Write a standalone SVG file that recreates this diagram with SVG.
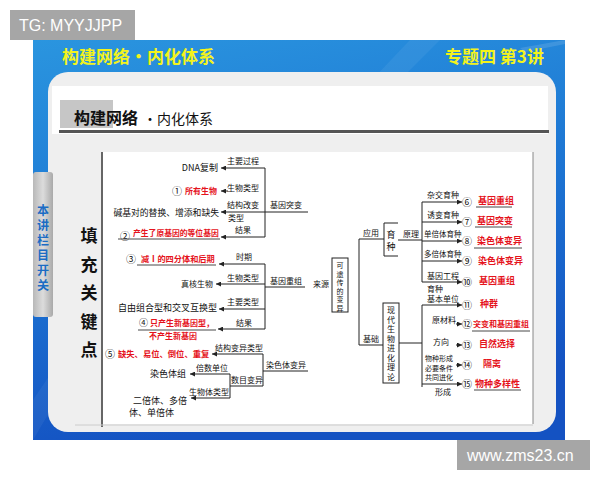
<svg xmlns="http://www.w3.org/2000/svg" width="600" height="480" viewBox="0 0 600 480">
<defs>
<linearGradient id="bg" x1="0" y1="0" x2="0.25" y2="1">
<stop offset="0" stop-color="#2a95df"/>
<stop offset="0.55" stop-color="#1c73d2"/>
<stop offset="1" stop-color="#1452c2"/>
</linearGradient>
<linearGradient id="tab" x1="0" y1="0" x2="1" y2="0">
<stop offset="0" stop-color="#b8b8b8"/>
<stop offset="0.5" stop-color="#dcdcdc"/>
<stop offset="1" stop-color="#a9a9a9"/>
</linearGradient>
<marker id="ah" viewBox="0 0 6 6" refX="6" refY="3" markerWidth="5" markerHeight="5" markerUnits="userSpaceOnUse" orient="auto">
<path d="M0,0 L6,3 L0,6 z" fill="#222"/>
</marker>
<style>
.t{font-family:"Noto Sans CJK SC","Noto Sans",sans-serif;fill:#111}
.s7{font-size:7.5px}.s8{font-size:8px}.s9{font-size:9px}.s10{font-size:10px}
.red{fill:#e5131c;font-weight:bold}
.c{text-anchor:middle}.e{text-anchor:end}
.ln{stroke:#222;stroke-width:1;fill:none}
.ar{stroke:#222;stroke-width:1;fill:none;marker-end:url(#ah)}
.ul{stroke:#333;stroke-width:0.9}
.hd{font-family:"Noto Sans CJK SC",sans-serif;font-weight:bold;font-size:17px;fill:#f3f31c}
.wm{font-family:"Liberation Sans",Arial,sans-serif;font-size:16px;fill:#fff}
</style>
</defs>
<rect width="600" height="480" fill="#fff"/>
<!-- slide background -->
<rect x="33" y="40" width="532" height="400" fill="url(#bg)"/>
<polygon points="410,40 440,40 400,80 372,80" fill="#fff" opacity="0.06"/>
<polygon points="520,48 565,40 565,44 525,52" fill="#fff" opacity="0.12"/>
<polygon points="33,440 33,400 60,360 80,360" fill="#fff" opacity="0.05"/>
<text class="hd" x="62" y="63">构建网络・内化体系</text>
<text class="hd" x="445" y="63">专题四 第3讲</text>
<!-- white panel -->
<rect x="48" y="72" width="508" height="360" rx="20" fill="#efefef"/>
<rect x="52" y="86" width="496" height="48" fill="#fff"/>
<rect x="60" y="100" width="53" height="28" fill="#c6c6c6"/>
<text class="t" x="74" y="124" font-size="16" font-weight="bold">构建网络</text>
<text class="t" x="143" y="124" font-size="14">・内化体系</text>
<rect x="59" y="130" width="490" height="3" fill="#555"/>
<rect x="103" y="152" width="430" height="272" fill="#fff"/>
<line x1="102" y1="152" x2="102" y2="427" stroke="#666" stroke-width="2"/>
<line x1="533" y1="152" x2="533" y2="424" stroke="#888" stroke-width="1"/>
<line x1="75" y1="425" x2="533" y2="425" stroke="#ccc" stroke-width="1"/>
<!-- side tab -->
<g id="tab-switch">
<rect x="33" y="172" width="20" height="145" rx="3" fill="url(#tab)"/>
<text x="43" y="204" writing-mode="tb" font-family="Noto Sans CJK SC,sans-serif" font-size="12" letter-spacing="3" font-weight="bold" fill="#1b6cc4">本讲栏目开关</text>
</g>
<!-- watermarks -->
<rect x="10" y="10" width="125" height="30" fill="#a6a6a6"/>
<text class="wm" x="19" y="31">TG: MYYJJPP</text>
<rect x="457" y="440" width="133" height="30" fill="#a6a6a6"/>
<text class="wm" x="467" y="461">www.zms23.cn</text>
<!-- title -->
<g id="fill-title" class="t" font-size="17" font-weight="bold" text-anchor="middle">
<text x="89" y="242">填</text><text x="89" y="271">充</text><text x="89" y="299">关</text><text x="89" y="328">键</text><text x="89" y="356">点</text>
</g>
<!-- connectors -->
<g id="connectors">
<line class="ar" x1="265" y1="168" x2="221" y2="168"/>
<line class="ar" x1="228" y1="191" x2="221" y2="191"/>
<line class="ar" x1="265" y1="212" x2="221" y2="212"/>
<line class="ar" x1="265" y1="237" x2="221" y2="237"/>
<line class="ln" x1="265" y1="168" x2="265" y2="237"/>
<line class="ln" x1="265" y1="212" x2="308" y2="212"/>
<line class="ar" x1="265" y1="264" x2="219" y2="264"/>
<line class="ar" x1="265" y1="284" x2="216" y2="284"/>
<line class="ar" x1="265" y1="309" x2="219" y2="309"/>
<line class="ar" x1="265" y1="329" x2="218" y2="329"/>
<line class="ln" x1="265" y1="264" x2="265" y2="329"/>
<line class="ln" x1="265" y1="287" x2="305" y2="287"/>
<line class="ar" x1="263" y1="354" x2="212" y2="354"/>
<line class="ln" x1="263" y1="354" x2="263" y2="386"/>
<line class="ln" x1="263" y1="371" x2="308" y2="371"/>
<line class="ln" x1="230" y1="386" x2="263" y2="386"/>
<line class="ln" x1="230" y1="374" x2="230" y2="398"/>
<line class="ar" x1="230" y1="374" x2="190" y2="374"/>
<line class="ar" x1="230" y1="398" x2="191" y2="398"/>
<line class="ln" x1="359" y1="239" x2="359" y2="345"/>
<line class="ln" x1="359" y1="239" x2="384" y2="239"/>
<line class="ln" x1="359" y1="345" x2="383" y2="345"/>
<line class="ln" x1="398" y1="240" x2="422" y2="240"/>
<line class="ln" x1="422" y1="202" x2="422" y2="282"/>
<line class="ar" x1="422" y1="202" x2="462" y2="202"/>
<line class="ar" x1="422" y1="222" x2="462" y2="222"/>
<line class="ar" x1="422" y1="241" x2="462" y2="241"/>
<line class="ar" x1="422" y1="261" x2="462" y2="261"/>
<line class="ar" x1="422" y1="282" x2="462" y2="282"/>
<line class="ln" x1="399" y1="343" x2="422" y2="343"/>
<line class="ln" x1="422" y1="305" x2="422" y2="387"/>
<line class="ar" x1="422" y1="305" x2="462" y2="305"/>
<line class="ar" x1="456" y1="324" x2="462" y2="324"/>
<line class="ar" x1="456" y1="345" x2="462" y2="345"/>
<line class="ar" x1="456" y1="365" x2="462" y2="365"/>
<line class="ar" x1="422" y1="384" x2="462" y2="384"/>
</g>
<!-- left: gene mutation -->
<g id="gene-mutation" class="t">
<text class="s9 e" x="218" y="171">DNA复制</text>
<text class="s10" x="172" y="195">①</text><text class="s8 red" x="185" y="194">所有生物</text>
<text class="e" font-size="8.8" x="219" y="216">碱基对的替换、增添和缺失</text>
<text class="s10" x="120" y="240">②</text><text class="red" font-size="7.8" x="133" y="236">产生了原基因的等位基因</text>
<line class="ul" x1="118" y1="239" x2="220" y2="239"/>
<text class="s8 c" x="243" y="164">主要过程</text>
<text class="s8 c" x="243" y="191">生物类型</text>
<text class="s8 c" x="243" y="208">结构改变</text>
<text class="s8" x="228" y="221">类型</text>
<text class="s8 c" x="243" y="233">结果</text>
<text class="s8 c" x="286" y="208">基因突变</text>
</g>
<g id="gene-recombination" class="t">
<text class="s10" x="126" y="263">③</text><text class="red" font-size="8.2" x="141" y="262">减Ⅰ的四分体和后期</text>
<line class="ul" x1="137" y1="265" x2="216" y2="265"/>
<text class="s8 e" x="213" y="287">真核生物</text>
<text class="s9 e" x="217" y="311">自由组合型和交叉互换型</text>
<text class="s9" x="139" y="326">④</text><text class="s8 red" x="150" y="326">只产生新基因型，</text>
<line class="ul" x1="138" y1="330" x2="216" y2="330"/>
<text class="s8 red" x="149" y="339">不产生新基因</text>
<text class="s8 c" x="244" y="260">时期</text>
<text class="s8 c" x="243" y="281">生物类型</text>
<text class="s8 c" x="286" y="284">基因重组</text>
<text class="s8 c" x="321" y="287">来源</text>
<text class="s8 c" x="243" y="305">主要类型</text>
<text class="s8 c" x="244" y="326">结果</text>
</g>
<g id="chromosome-variation" class="t">
<text class="s10" x="105" y="358">⑤</text><text class="red" font-size="8.3" x="118" y="357">缺失、易位、倒位、重复</text>
<text class="s9 e" x="186" y="377">染色体组</text>
<text class="s9 e" x="187" y="404">二倍体、多倍</text>
<text class="s9" x="129" y="416">体、单倍体</text>
<text class="s8 c" x="239" y="351">结构变异类型</text>
<text class="s8 c" x="286" y="368">染色体变异</text>
<text class="s8 c" x="212" y="371">倍数单位</text>
<text class="s8 c" x="247" y="383">数目变异</text>
<text class="s8 c" x="209" y="395">生物体类型</text>
</g>
<!-- center -->
<g id="heritable-variation" class="t">
<rect x="332" y="258" width="16" height="54" fill="none" stroke="#222" stroke-width="1"/>
<g class="c" font-size="7"><text x="340" y="268">可</text><text x="340" y="276.5">遗</text><text x="340" y="285">传</text><text x="340" y="293.5">的</text><text x="340" y="302">变</text><text x="340" y="310.5">异</text></g>
<text class="s8 c" x="371" y="236">应用</text>
<text class="s8 c" x="371" y="342">基础</text>
</g>
<g id="breeding" class="t">
<path class="ln" d="M398,223 H384 V256 H398"/>
<text class="s9 c" x="391" y="238">育</text><text class="s9 c" x="391" y="250">种</text>
<text class="s8 c" x="411" y="237">原理</text>
<text class="s8" x="427" y="198">杂交育种</text>
<text class="s8" x="427" y="218">诱变育种</text>
<text class="s7" x="424" y="237">单倍体育种</text>
<text class="s7" x="424" y="257">多倍体育种</text>
<text class="s8" x="427" y="279">基因工程</text>
<text class="s8" x="427" y="292">育种</text>
<g class="s10 c"><text x="467" y="205.5">⑥</text><text x="467" y="225.5">⑦</text><text x="467" y="244.5">⑧</text><text x="467" y="264.5">⑨</text><text x="467" y="285.5">⑩</text></g>
<text class="s9 red" x="478" y="204">基因重组</text><line class="ul" x1="476" y1="207" x2="512" y2="207"/>
<text class="s9 red" x="477" y="224">基因突变</text><line class="ul" x1="475" y1="227" x2="512" y2="227"/>
<text class="s9 red" x="477" y="244">染色体变异</text><line class="ul" x1="474" y1="248" x2="522" y2="248"/>
<text class="s9 red" x="478" y="264">染色体变异</text>
<text class="s9 red" x="479" y="284">基因重组</text>
</g>
<g id="evolution-theory" class="t">
<rect x="383" y="303" width="16" height="80" fill="none" stroke="#222" stroke-width="1"/>
<g class="c" font-size="8"><text x="391" y="313">现</text><text x="391" y="322.5">代</text><text x="391" y="332">生</text><text x="391" y="341.5">物</text><text x="391" y="351">进</text><text x="391" y="360.5">化</text><text x="391" y="370">理</text><text x="391" y="379.5">论</text></g>
<text class="s8" x="427" y="302">基本单位</text>
<text class="s8" x="432" y="323">原材料</text>
<text class="s8" x="433" y="345">方向</text>
<text font-size="7" x="425" y="361">物种形成</text>
<text font-size="7" x="425" y="370.5">必要条件</text>
<text font-size="7" x="425" y="380">共同进化</text>
<text class="s8" x="435" y="395">形成</text>
<g class="s10 c"><text x="467" y="308.5">⑪</text><text x="467" y="327.5">⑫</text><text x="467" y="348.5">⑬</text><text x="467" y="368.5">⑭</text><text x="467" y="387.5">⑮</text></g>
<text class="s9 red" x="480" y="307">种群</text>
<text class="s8 red" x="473" y="327">突变和基因重组</text><line class="ul" x1="472" y1="331" x2="530" y2="331"/>
<text class="s9 red" x="479" y="347">自然选择</text>
<text class="s9 red" x="483" y="367">隔离</text>
<text class="s9 red" x="475" y="387">物种多样性</text><line class="ul" x1="474" y1="390" x2="521" y2="390"/>
</g>
</svg>
